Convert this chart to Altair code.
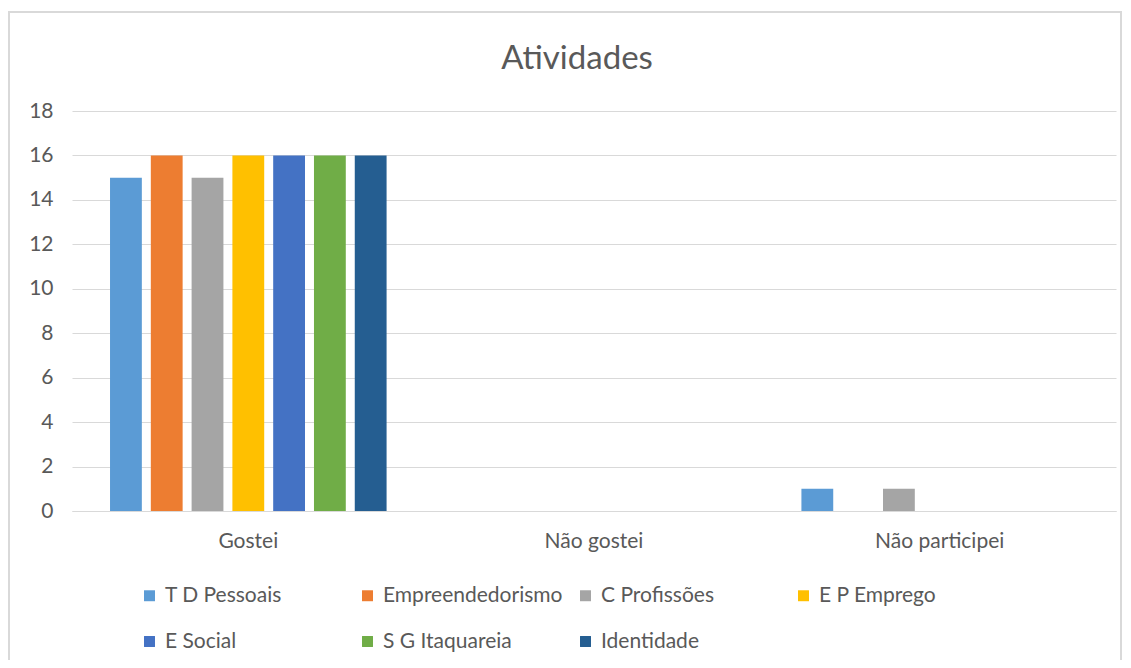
import altair as alt
import pandas as pd

categories = ["Gostei", "Não gostei", "Não participei"]
series = ["T D Pessoais", "Empreendedorismo", "C Profissões", "E P Emprego",
          "E Social", "S G Itaquareia", "Identidade"]
colors = ["#5B9BD5", "#ED7D31", "#A5A5A5", "#FFC000", "#4472C4", "#70AD47", "#255E91"]
values = {
    "Gostei":         [15, 16, 15, 16, 16, 16, 16],
    "Não gostei":     [0, 0, 0, 0, 0, 0, 0],
    "Não participei": [1, 0, 1, 0, 0, 0, 0],
}
y_ticks = [0, 2, 4, 6, 8, 10, 12, 14, 16, 18]
title_text = "Atividades"

rows = []
for c in categories:
    for s, v in zip(series, values[c]):
        rows.append({"categoria": c, "atividade": s, "valor": v})
df = pd.DataFrame(rows)

FONT = "Lato"
TXT = "#595959"
GRID = "#D9D9D9"
FS = 21

bars = alt.Chart(df).mark_bar().encode(
    x=alt.X("categoria:N", sort=categories,
            scale=alt.Scale(paddingInner=0.2, paddingOuter=0.11),
            axis=alt.Axis(title=None, labelAngle=0, ticks=False, domain=True,
                          domainColor=GRID, labelPadding=19, labelFontSize=FS,
                          labelColor=TXT, labelFont=FONT)),
    xOffset=alt.XOffset("atividade:N", sort=series,
                        scale=alt.Scale(paddingInner=0.22, paddingOuter=0)),
    y=alt.Y("valor:Q", scale=alt.Scale(domain=[0, 18], nice=False),
            axis=alt.Axis(title=None, values=y_ticks, ticks=False, domain=False,
                          grid=True, gridColor=GRID, labelPadding=19,
                          labelFontSize=FS, labelColor=TXT, labelFont=FONT)),
    color=alt.Color("atividade:N", sort=series,
                    scale=alt.Scale(domain=series, range=colors),
                    legend=alt.Legend(title=None, orient="none", legendX=67, legendY=474,
                                      direction="horizontal", columns=4, gridAlign="all",
                                      symbolType="square", symbolSize=120,
                                      symbolStrokeWidth=0, labelOffset=5,
                                      columnPadding=12, rowPadding=24,
                                      labelFontSize=FS, labelColor=TXT, labelFont=FONT,
                                      labelLimit=400)),
)

frame = alt.Chart(pd.DataFrame({"a": [0]})).mark_rect(
    filled=False, stroke=GRID, strokeWidth=2, clip=False
).encode(
    x=alt.value(-63), x2=alt.value(1049), y=alt.value(-99), y2=alt.value(600)
)

title = alt.Chart(pd.DataFrame({"t": [title_text]})).mark_text(
    font=FONT, fontSize=33, fontWeight="normal", color=TXT, align="center",
    baseline="alphabetic", clip=False
).encode(
    text="t:N", x=alt.value(505), y=alt.value(-42)
)

chart = alt.layer(frame, bars, title).properties(
    width=1044, height=400,
    autosize=alt.AutoSizeParams(type="none"),
    padding={"left": 64, "top": 103, "right": 7, "bottom": 149},
).configure_view(stroke=None)

chart.save("out.html", embed_options={"renderer": "svg", "actions": False})
